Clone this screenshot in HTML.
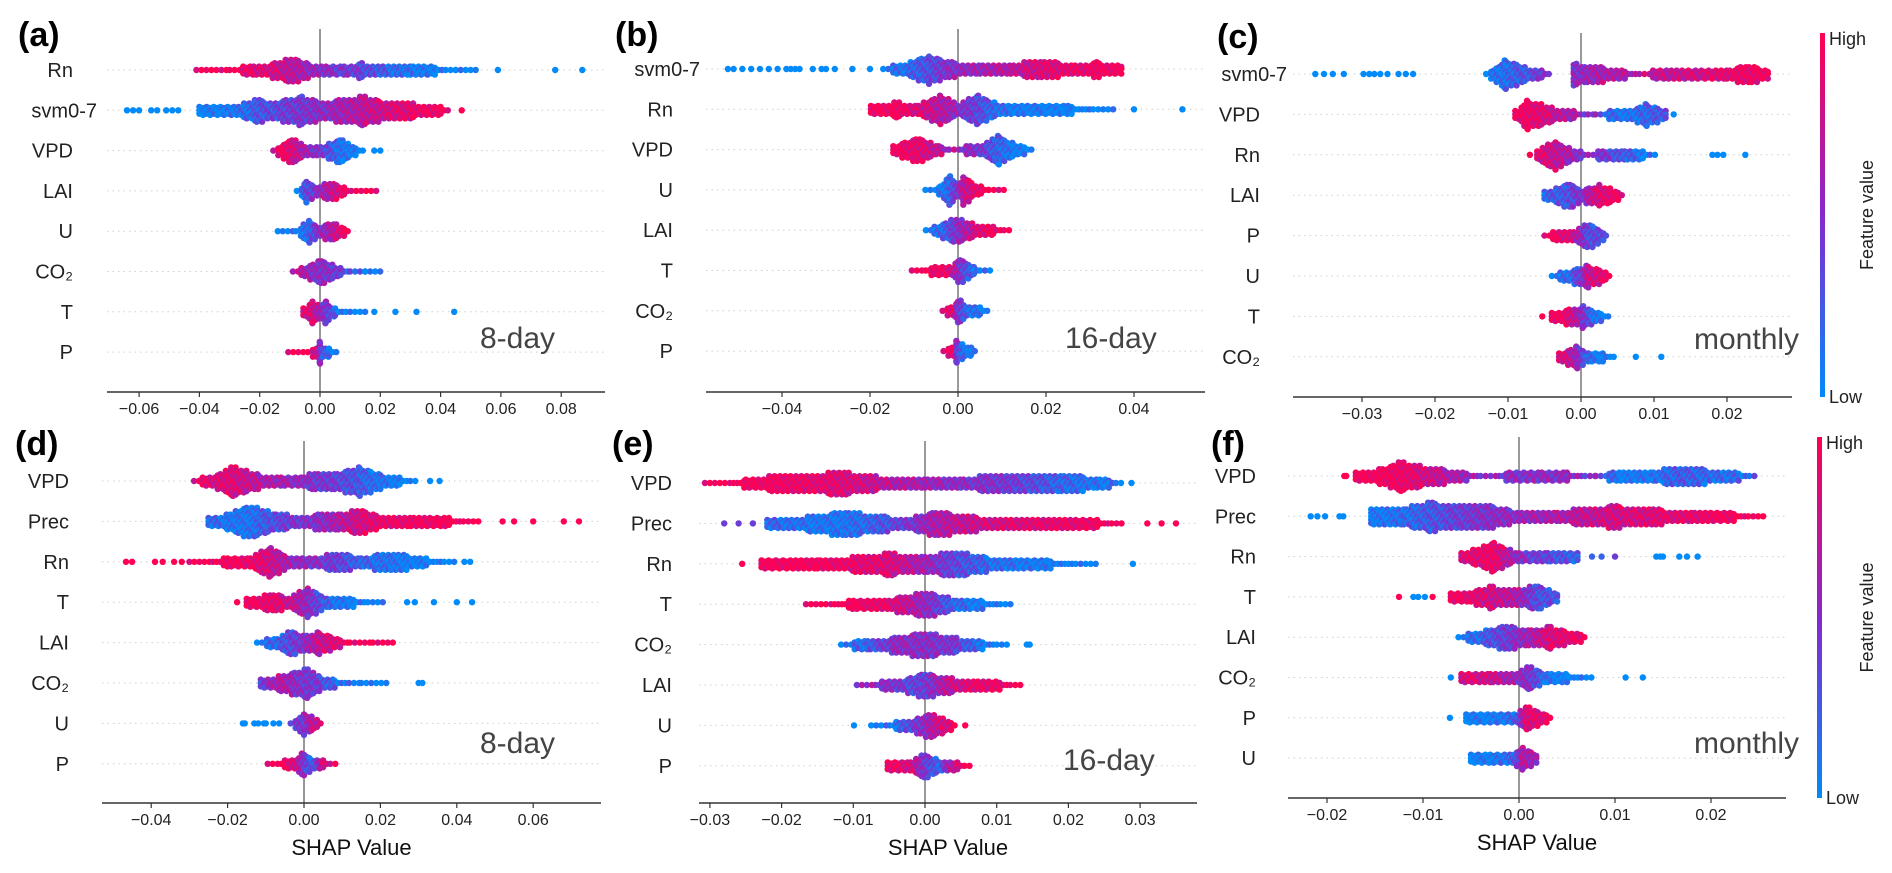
<!DOCTYPE html>
<html><head><meta charset="utf-8"><style>
body{margin:0;background:#fff;}
svg{display:block;font-family:"Liberation Sans",Arial,sans-serif;}
</style></head><body>
<svg id="fig" width="1892" height="873" viewBox="0 0 1892 873" xmlns="http://www.w3.org/2000/svg"></svg>
<script>
// ===== Panel (a) 8-day =====
const aFeatures=["Rn","svm0-7","VPD","LAI","U","CO₂","T","P"];
const aTicks=[-0.06,-0.04,-0.02,0,0.02,0.04,0.06,0.08];
const aKnotX=[[-0.041,-0.03,-0.022,-0.015,-0.009,-0.004,0.002,0.008,0.013,0.02,0.03,0.045,0.053],[-0.04,-0.033,-0.027,-0.021,-0.014,-0.006,0,0.007,0.014,0.022,0.03,0.04,0.044],[-0.0155,-0.012,-0.009,-0.005,-0.001,0.003,0.0066,0.01,0.0143],[-0.0077,-0.0045,-0.001,0.0015,0.0045,0.008,0.012,0.019],[-0.014,-0.008,-0.0035,0,0.0045,0.008,0.01],[-0.009,-0.005,0.0005,0.005,0.01,0.015,0.02],[-0.0055,-0.0025,0,0.002,0.005,0.01,0.0155],[-0.0105,-0.004,-0.001,0,0.001,0.003,0.006]];
const aKnotD=[[1,1,3,4,7,4,2,2,4,3,3,1,1],[2,2,3,6,5,8,5,6,8,5,4,2,1],[1,4,7,3,2,4,7,3,1],[1,6,3,4,5,2,1,1],[1,1,6,3,5,2,1],[1,3,7,3,1,1,1],[2,6,3,6,2,1,1],[1,1,3,6,3,2,1]];
const aKnotC=[[1,1,0.9,0.8,0.7,0.6,0.5,0.45,0.4,0.25,0.1,0,0],[0,0.05,0.1,0.25,0.35,0.45,0.5,0.6,0.7,0.8,0.9,1,1],[0.9,1,0.85,0.6,0.5,0.3,0.15,0.05,0],[0.05,0.3,0.5,0.6,0.75,0.95,1,1],[0,0.05,0.2,0.5,0.7,0.95,1],[0.8,0.6,0.5,0.45,0.3,0.1,0],[0.9,0.85,0.6,0.45,0.2,0,0],[1,1,0.8,0.5,0.3,0.1,0]];
const aOut=[[[0.059,0],[0.078,0],[0.087,0]],[[-0.064,0],[-0.062,0],[-0.06,0],[-0.056,0],[-0.054,0],[-0.051,0],[-0.049,0],[-0.047,0],[0.047,1]],[[0.018,0],[0.02,0]],[],[],[],[[0.018,0],[0.025,0],[0.032,0],[0.0445,0]],[]];
// ===== Panel (b) 16-day =====
const bFeatures=["svm0-7","Rn","VPD","U","LAI","T","CO₂","P"];
const bTicks=[-0.04,-0.02,0,0.02,0.04];
const bKnotX=[[-0.017,-0.012,-0.0066,-0.002,0.005,0.012,0.019,0.026,0.032,0.0375],[-0.0198,-0.014,-0.009,-0.004,0,0.0046,0.009,0.015,0.025,0.036],[-0.0147,-0.0093,-0.005,-0.002,0.002,0.006,0.0093,0.013,0.0175],[-0.0074,-0.004,-0.0018,0,0.0012,0.004,0.007,0.0107],[-0.0073,-0.004,-0.001,0.002,0.005,0.008,0.0117],[-0.0105,-0.006,-0.002,0.0005,0.003,0.005,0.0074],[-0.0035,-0.001,0,0.002,0.005,0.0073],[-0.0033,-0.001,-0.0003,0.001,0.003,0.0045]];
const bKnotD=[[1,3,8,4,3,3,5,3,4,2],[2,4,3,8,3,8,3,2,2,1],[2,7,3,1,2,3,8,3,1],[1,2,8,3,8,3,1,1],[1,3,7,5,3,2,1],[1,2,2,7,3,1,1],[1,3,7,3,2,1],[1,3,7,4,2,1]];
const bKnotC=[[0.05,0.15,0.3,0.5,0.6,0.7,0.85,0.9,0.95,1],[1,1,0.85,0.7,0.55,0.35,0.15,0.05,0,0],[1,0.9,0.75,0.65,0.55,0.4,0.2,0.05,0],[0,0.05,0.2,0.5,0.7,0.9,1,1],[0,0.15,0.4,0.65,0.85,1,1],[1,1,0.9,0.5,0.2,0.1,0],[1,0.8,0.5,0.2,0.05,0],[1,0.9,0.5,0.15,0,0]];
const bOut=[[[-0.0523,0],[-0.051,0],[-0.049,0],[-0.047,0],[-0.045,0],[-0.043,0],[-0.041,0],[-0.039,0],[-0.038,0],[-0.037,0],[-0.036,0],[-0.033,0],[-0.031,0],[-0.030,0],[-0.028,0],[-0.024,0],[-0.02,0]],[[0.04,0],[0.051,0]],[],[],[],[],[],[]];
// ===== Panel (c) monthly =====
const cFeatures=["svm0-7","VPD","Rn","LAI","P","U","T","CO₂"];
const cTicks=[-0.03,-0.02,-0.01,0,0.01,0.02];
const cKnotX=[[-0.013,-0.0103,-0.007,-0.004,-0.003,-0.001,0.0005,0.003,0.006,0.008,0.012,0.016,0.02,0.023,0.026],[-0.009,-0.0073,-0.004,-0.001,0.002,0.004,0.007,0.009,0.0118],[-0.006,-0.0035,-0.0013,0.001,0.0025,0.006,0.0105],[-0.005,-0.0015,0,0.0025,0.0059],[-0.005,-0.003,-0.001,0.0012,0.0038],[-0.004,-0.002,0,0.001,0.003,0.0043],[-0.004,-0.002,0.0003,0.002,0.004],[-0.003,-0.0005,0.001,0.003,0.005]];
const cKnotD=[[1,8,3,1,0,7,4,4,2,1,3,2,3,5,2],[2,8,4,2,1,2,3,6,2],[3,8,3,1,2,3,1],[2,7,3,6,1],[1,3,3,7,1],[1,3,5,6,3,1],[2,4,6,3,1],[2,6,2,2,1]];
const cKnotC=[[0.05,0.15,0.3,0.55,0.5,0.5,0.55,0.65,0.65,0.7,0.75,0.8,0.9,0.95,1],[1,0.95,0.8,0.6,0.45,0.15,0.1,0.2,0.3],[0.9,0.75,0.6,0.5,0.45,0.25,0],[0.2,0.3,0.5,0.85,1],[1,0.95,0.8,0.3,0.4],[0,0.15,0.4,0.75,0.9,1],[1,0.95,0.5,0.1,0],[0.9,0.6,0.15,0,0]];
const cOut=[[[-0.0364,0],[-0.0352,0],[-0.034,0],[-0.0325,0],[-0.0298,0],[-0.029,0],[-0.0283,0],[-0.0275,0],[-0.0265,0],[-0.025,0],[-0.024,0],[-0.023,0]],[[0.0127,0]],[[-0.007,1],[0.018,0],[0.0187,0],[0.0195,0],[0.0225,0]],[],[],[],[[-0.0053,1]],[[0.0075,0],[0.011,0]]];
// ===== Panel (d) 8-day =====
const dFeatures=["VPD","Prec","Rn","T","LAI","CO₂","U","P"];
const dTicks=[-0.04,-0.02,0,0.02,0.04,0.06];
const dKnotX=[[-0.0288,-0.024,-0.0186,-0.012,-0.006,0,0.003,0.008,0.0146,0.02,0.025,0.03],[-0.025,-0.02,-0.0144,-0.008,-0.002,0.004,0.009,0.0146,0.02,0.028,0.037,0.046],[-0.03,-0.02,-0.014,-0.0087,-0.004,0.002,0.0085,0.015,0.024,0.032,0.04],[-0.015,-0.008,-0.004,0.001,0.006,0.012,0.021],[-0.0123,-0.007,-0.003,0,0.004,0.008,0.012,0.018,0.024],[-0.0113,-0.006,-0.002,0.001,0.004,0.008,0.015,0.0228],[-0.0035,-0.001,0,0.002,0.0045],[-0.0095,-0.005,-0.002,0,0.002,0.005,0.0085]];
const dKnotD=[[1,3,8,4,2,3,5,4,8,4,2,1],[2,4,9,5,3,4,4,7,3,3,2,1],[1,2,3,8,3,2,5,3,5,2,1],[2,5,3,8,3,2,1],[1,3,7,4,6,3,1,1,1],[2,4,7,8,4,2,1,1],[1,4,6,4,1],[1,2,3,7,3,2,1]];
const dKnotC=[[0.9,0.85,0.85,0.7,0.6,0.55,0.45,0.4,0.25,0.1,0.05,0],[0.2,0.1,0.1,0.3,0.45,0.5,0.65,0.8,0.9,0.95,1,1],[1,1,0.95,0.8,0.6,0.5,0.4,0.2,0.1,0,0],[1,0.9,0.8,0.55,0.2,0.05,0],[0,0.2,0.35,0.5,0.75,0.85,1,1,1],[0.4,0.7,0.5,0.45,0.4,0.2,0,0],[0.5,0.4,0.45,0.7,0.8],[1,1,0.8,0.45,0.2,0.8,1]];
const dOut=[[[0.033,0],[0.0355,0]],[[0.052,1],[0.055,1],[0.06,1],[0.068,1],[0.072,1]],[[-0.0466,1],[-0.045,1],[-0.039,1],[-0.037,1],[-0.034,1],[-0.032,1],[0.042,0],[0.0435,0]],[[-0.0175,1],[0.027,0],[0.029,0],[0.034,0],[0.04,0],[0.044,0]],[],[[0.03,0],[0.031,0]],[[-0.016,0],[-0.0155,0],[-0.013,0],[-0.012,0],[-0.0105,0],[-0.01,0],[-0.008,0],[-0.0065,0]],[]];
// ===== Panel (e) 16-day =====
const eFeatures=["VPD","Prec","Rn","T","CO₂","LAI","U","P"];
const eTicks=[-0.03,-0.02,-0.01,0,0.01,0.02,0.03];
const eKnotX=[[-0.0307,-0.025,-0.0195,-0.011,-0.005,0,0.005,0.011,0.019,0.024,0.0275],[-0.022,-0.016,-0.011,-0.006,-0.002,0.0015,0.006,0.012,0.018,0.024,0.028],[-0.0228,-0.015,-0.009,-0.005,0,0.004,0.01,0.017,0.0242],[-0.0166,-0.01,-0.005,0.0002,0.004,0.008,0.0125],[-0.0117,-0.008,-0.004,0,0.004,0.008,0.012],[-0.0095,-0.006,-0.002,0,0.003,0.007,0.0135],[-0.0075,-0.004,-0.001,0.0005,0.0025,0.0045],[-0.0052,-0.002,0,0.002,0.0045,0.0065]];
const eKnotD=[[1,2,5,6,3,3,3,5,5,3,1],[2,4,7,4,3,7,4,3,3,2,1],[2,3,4,6,4,7,3,2,1],[1,2,3,7,3,2,1],[1,3,4,7,4,2,1],[1,2,4,7,4,3,1],[1,2,4,7,4,1],[2,3,7,3,2,1]];
const eKnotC=[[1,1,0.95,0.85,0.7,0.6,0.5,0.45,0.2,0.1,0.1],[0.2,0.1,0.1,0.25,0.45,0.65,0.75,0.85,0.9,0.95,1],[1,1,0.9,0.85,0.6,0.35,0.15,0.05,0],[1,1,0.9,0.55,0.2,0.05,0],[0.1,0.2,0.55,0.5,0.45,0.1,0],[0.6,0.55,0.35,0.4,0.7,0.9,1],[0,0.15,0.45,0.6,0.85,0.9],[0.95,0.85,0.45,0.2,0.9,1]];
const eOut=[[[0.0288,0]],[[-0.028,0.4],[-0.026,0.4],[-0.024,0.4],[0.031,1],[0.033,1],[0.035,1]],[[-0.0255,1],[0.029,0]],[],[[0.0142,0],[0.0146,0]],[],[[-0.0099,0],[0.0056,1]],[]];
// ===== Panel (f) monthly =====
const fFeatures=["VPD","Prec","Rn","T","LAI","CO₂","P","U"];
const fTicks=[-0.02,-0.01,0,0.01,0.02];
const fKnotX=[[-0.017,-0.0145,-0.0123,-0.0095,-0.0067,-0.004,-0.001,0.002,0.005,0.008,0.0106,0.014,0.0168,0.021,0.0249],[-0.0154,-0.012,-0.0093,-0.006,-0.003,0,0.004,0.0099,0.014,0.018,0.022,0.0257],[-0.006,-0.0026,0,0.003,0.0064],[-0.0071,-0.005,-0.003,0,0.002,0.004],[-0.0063,-0.004,-0.0013,0.001,0.0033,0.0055,0.0072],[-0.006,-0.003,0,0.001,0.003,0.005,0.0078],[-0.0055,-0.003,-0.0005,0.0008,0.0023,0.0035],[-0.005,-0.003,-0.0005,0.0004,0.002]];
const fKnotD=[[2,4,8,5,3,1,2,2,2,1,3,3,5,3,1],[4,5,8,6,6,3,3,6,4,3,2,1],[2,8,2,3,2],[2,3,6,4,7,2],[1,3,7,4,6,3,1],[2,3,3,7,2,2,1],[2,2,2,7,3,1],[2,2,3,6,2]];
const fKnotC=[[1,1,0.95,0.8,0.65,0.55,0.5,0.5,0.55,0.45,0.05,0.1,0.25,0.15,0.2],[0.05,0.15,0.25,0.4,0.5,0.55,0.65,0.8,0.85,0.9,1,1],[0.85,0.95,0.5,0.35,0.2],[1,0.9,0.8,0.65,0.3,0.3],[0,0.2,0.4,0.6,0.85,0.9,1],[0.85,0.8,0.55,0.5,0.1,0,0],[0,0.05,0.15,0.85,0.9,1],[0,0.05,0.2,0.7,0.5]];
const fOut=[[[-0.0182,1],[-0.018,1]],[[-0.0217,0],[-0.021,0],[-0.0202,0],[-0.0187,0],[-0.0183,0]],[[0.0076,0.2],[0.0086,0.2],[0.01,0.4],[0.0143,0],[0.0147,0],[0.015,0],[0.0167,0],[0.0175,0],[0.0186,0]],[[-0.0125,1],[-0.011,0],[-0.0105,0],[-0.0098,0],[-0.009,1]],[],[[-0.0071,0],[0.0111,0],[0.0129,0]],[[-0.0072,0]],[]];

const svg=document.getElementById('fig');
const NS='http://www.w3.org/2000/svg';
function mk(tag,attrs,parent){const e=document.createElementNS(NS,tag);for(const k in attrs)e.setAttribute(k,attrs[k]);(parent||svg).appendChild(e);return e;}
function cmap(t){t=Math.max(0,Math.min(1,t));const s=[[0,[0,138,250]],[0.5,[135,40,205]],[1,[255,0,82]]];
 let i=t<0.5?0:1;const a=s[i],b=s[i+1];const u=(t-a[0])/(b[0]-a[0]);
 return 'rgb('+a[1].map((v,j)=>Math.round(v+(b[1][j]-v)*u)).join(',')+')';}
function fmt(v,d){return (v<0?'\u22120':'')+(v<0?Math.abs(v).toFixed(d).slice(1):v.toFixed(d));}

const layouts=[
 {L:'a',f:aFeatures,t:aTicks,kx:aKnotX,kd:aKnotD,kc:aKnotC,o:aOut,zero:320,sc:3015,x0:107,x1:605,ay:392,r0:70,rs:40.3,top:29,lr:73,sr:97,dec:2,tag:'8-day',tx:480,ty:348,lx:18,ly:46,shap:false,cb:null},
 {L:'b',f:bFeatures,t:bTicks,kx:bKnotX,kd:bKnotD,kc:bKnotC,o:bOut,zero:958,sc:4400,x0:706,x1:1205,ay:392,r0:69,rs:40.3,top:29,lr:673,sr:700,dec:2,tag:'16-day',tx:1065,ty:348,lx:615,ly:46,shap:false,cb:null},
 {L:'c',f:cFeatures,t:cTicks,kx:cKnotX,kd:cKnotD,kc:cKnotC,o:cOut,zero:1581,sc:7300,x0:1293,x1:1792,ay:397,r0:74,rs:40.4,top:33,lr:1260,sr:1287,dec:2,tag:'monthly',tx:1694,ty:349,lx:1217,ly:48,shap:false,cb:[1820,33,397]},
 {L:'d',f:dFeatures,t:dTicks,kx:dKnotX,kd:dKnotD,kc:dKnotC,o:dOut,zero:304,sc:3820,x0:102,x1:601,ay:803,r0:481,rs:40.4,top:441,lr:69,sr:69,dec:2,tag:'8-day',tx:480,ty:753,lx:15,ly:455,shap:true,cb:null},
 {L:'e',f:eFeatures,t:eTicks,kx:eKnotX,kd:eKnotD,kc:eKnotC,o:eOut,zero:925,sc:7170,x0:699,x1:1197,ay:803,r0:483,rs:40.4,top:441,lr:672,sr:672,dec:2,tag:'16-day',tx:1063,ty:770,lx:612,ly:455,shap:true,cb:null},
 {L:'f',f:fFeatures,t:fTicks,kx:fKnotX,kd:fKnotD,kc:fKnotC,o:fOut,zero:1519,sc:9600,x0:1288,x1:1786,ay:798,r0:476,rs:40.3,top:437,lr:1256,sr:1256,dec:2,tag:'monthly',tx:1694,ty:753,lx:1211,ly:455,shap:true,cb:[1817,437,798]}
];

layouts.forEach(P=>{
 const g=mk('g',{});
 
 
 const X=v=>P.zero+v*P.sc;
 const lt=mk('text',{x:P.lx,y:P.ly,'font-size':34,'font-weight':'bold',fill:'#000'},g);lt.textContent='('+P.L+')';
 
 
 P.f.forEach((name,i)=>{
  const y=P.r0+i*P.rs;
  const gl=mk('line',{x1:P.x0,x2:P.x1,y1:y,y2:y,stroke:'#cfcfcf','stroke-width':1,'stroke-dasharray':'1.5 4'},g);
  
  
  const tl=mk('text',{x:(name==='svm0-7'?P.sr:P.lr),y:y+7,'font-size':20,'text-anchor':'end',fill:'#222'},g);tl.textContent=name;
  
  
 });
 const zl=mk('line',{x1:P.zero,x2:P.zero,y1:P.top,y2:P.ay,stroke:'#999','stroke-width':2},g);
 
 
 const R=3.2;
 P.f.forEach((name,i)=>{
  const y=P.r0+i*P.rs;const kx=P.kx[i],kd=P.kd[i],kc=P.kc[i];
  const dg=mk('g',{},g);
  
  
  let col=0;
  for(let k=0;k<kx.length-1;k++){
   if(kd[k]<=0||kd[k+1]<=0)continue;
   const px0=X(kx[k]),px1=X(kx[k+1]);
   let px=px0;
   while(px<=px1+0.01){
    const u=px1>px0?(px-px0)/(px1-px0):0;
    const d=kd[k]+(kd[k+1]-kd[k])*u;const c=kc[k]+(kc[k+1]-kc[k])*u;
    const hh=d*1.8;const n=Math.floor(hh/3.4);
    for(let j=-n;j<=n;j++){
     const jit=(((j*7+col*3)%5+5)%5-2)*0.09;
     const off=(col%2)*1.2;
     const dot=mk('circle',{cx:px.toFixed(1),cy:(y+j*3.4+off*(j===0?0:1)).toFixed(1),r:R,fill:cmap(c+jit)},dg);
     
     
    }
    col++;
    px+= d<1.5?5:(d<2.5?3.6:2.7);
   }
  }
  P.o[i].forEach(o=>{
   const dot=mk('circle',{cx:X(o[0]).toFixed(1),cy:y,r:R,fill:cmap(o[1])},dg);
   
   
  });
 });
 const ax=mk('line',{x1:P.x0,x2:P.x1,y1:P.ay,y2:P.ay,stroke:'#333','stroke-width':1.6},g);
 
 
 P.t.forEach(v=>{
  const x=X(v);
  const tk=mk('line',{x1:x,x2:x,y1:P.ay,y2:P.ay+5,stroke:'#333','stroke-width':1.2},g);
  
  
  const tt=mk('text',{x:x,y:P.ay+22,'font-size':16,'text-anchor':'middle',fill:'#222'},g);tt.textContent=fmt(v,P.dec);
  
  
 });
 if(P.shap){const st=mk('text',{x:(P.x0+P.x1)/2,y:P.ay+52,'font-size':22,'text-anchor':'middle',fill:'#111'},g);st.textContent='SHAP Value';
  
  }
 const tg=mk('text',{x:P.tx,y:P.ty,'font-size':30,fill:'#444'},g);tg.textContent=P.tag;
 
 
 if(P.cb){
  const [cx,y0,y1]=P.cb;
  const cg=mk('g',{},g);
  
  
  const gid='grad'+P.L;
  const gr=mk('linearGradient',{id:gid,x1:0,y1:1,x2:0,y2:0},cg);
  mk('stop',{offset:'0','stop-color':cmap(0)},gr);
  mk('stop',{offset:'0.5','stop-color':cmap(0.5)},gr);
  mk('stop',{offset:'1','stop-color':cmap(1)},gr);
  mk('rect',{x:cx,y:y0,width:5,height:y1-y0,fill:'url(#'+gid+')'},cg);
  const hi=mk('text',{x:cx+9,y:y0+12,'font-size':18,fill:'#222'},cg);hi.textContent='High';
  
  
  const lo=mk('text',{x:cx+9,y:y1+6,'font-size':18,fill:'#222'},cg);lo.textContent='Low';
  
  
  const fy=(y0+y1)/2;
  const fv=mk('text',{x:1873,y:fy,'font-size':18,'text-anchor':'middle',fill:'#222',transform:'rotate(-90 1873 '+fy+')'},cg);fv.textContent='Feature value';
  
  
 }
});
</script>
</body></html>
